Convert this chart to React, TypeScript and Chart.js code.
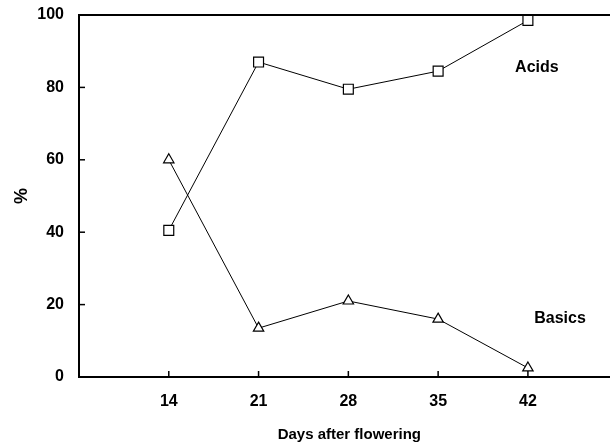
import React, { useEffect, useRef } from "react";
import { Chart, registerables } from "chart.js";

Chart.register(...registerables);

const days = [14, 21, 28, 35, 42];
const acids = [40.5, 87, 79.5, 84.5, 98.5];
const basics = [60, 13.5, 21, 16, 2.5];
const yTicks = [0, 20, 40, 60, 80, 100];
const seriesLabels = [
  { text: "Acids", x: 42.7, y: 85.5 },
  { text: "Basics", x: 44.5, y: 16 },
];
const xTitle = "Days after flowering";

const FONT = "'Liberation Sans', Arial, sans-serif";

const decorPlugin = {
  id: "decor",
  afterDraw(chart: any) {
    const { ctx, chartArea, scales } = chart;
    const xs = scales.x;
    const ys = scales.y;
    ctx.save();
    ctx.strokeStyle = "#000";
    ctx.lineWidth = 2;
    // top border
    ctx.beginPath();
    ctx.moveTo(chartArea.left - 1, chartArea.top);
    ctx.lineTo(chart.width, chartArea.top);
    ctx.stroke();
    // inner ticks
    ctx.lineWidth = 1.5;
    for (const d of days) {
      const px = xs.getPixelForValue(d);
      ctx.beginPath();
      ctx.moveTo(px, chartArea.bottom);
      ctx.lineTo(px, chartArea.bottom - 6);
      ctx.stroke();
    }
    for (const v of yTicks) {
      const py = ys.getPixelForValue(v);
      ctx.beginPath();
      ctx.moveTo(chartArea.left, py);
      ctx.lineTo(chartArea.left + 6, py);
      ctx.stroke();
    }
    // series labels
    ctx.fillStyle = "#000";
    ctx.font = `bold 16px ${FONT}`;
    ctx.textAlign = "center";
    ctx.textBaseline = "middle";
    for (const l of seriesLabels) {
      ctx.fillText(l.text, xs.getPixelForValue(l.x), ys.getPixelForValue(l.y));
    }
    // x axis title, centred under the middle tick
    ctx.font = `bold 15px ${FONT}`;
    ctx.fillText(xTitle, xs.getPixelForValue(days[2]) + 1, chartArea.bottom + 58);
    ctx.restore();
  },
};

export default function App() {
  const ref = useRef<HTMLCanvasElement>(null);
  useEffect(() => {
    if (!ref.current) return;
    const chart = new Chart(ref.current, {
      type: "line",
      data: {
        datasets: [
          {
            label: "Acids",
            data: days.map((d, i) => ({ x: d, y: acids[i] })),
            borderColor: "#000",
            borderWidth: 1,
            pointStyle: "rect",
            pointRadius: 7,
            pointBackgroundColor: "#fff",
            pointBorderColor: "#000",
            pointBorderWidth: 1.2,
            tension: 0,
          },
          {
            label: "Basics",
            data: days.map((d, i) => ({ x: d, y: basics[i] })),
            borderColor: "#000",
            borderWidth: 1,
            pointStyle: "triangle",
            pointRadius: 6,
            pointBackgroundColor: "#fff",
            pointBorderColor: "#000",
            pointBorderWidth: 1.2,
            tension: 0,
          },
        ],
      },
      options: {
        animation: false,
        responsive: false,
        layout: { autoPadding: false, padding: { top: 15, left: 0, right: 0, bottom: 0 } },
        plugins: { legend: { display: false }, tooltip: { enabled: false } },
        scales: {
          x: {
            type: "linear",
            min: 7,
            max: 48.4,
            afterFit: (s: any) => {
              s.height = 66;
              s.paddingLeft = 0;
              s.paddingRight = 0;
            },
            afterBuildTicks: (s: any) => { s.ticks = days.map((v) => ({ value: v })); },
            grid: { display: false, drawTicks: false },
            border: { display: true, color: "#000", width: 2 },
            ticks: {
              color: "#000",
              padding: 15,
              font: { family: FONT, size: 16, weight: "bold" },
            },
            title: { display: false },
          },
          y: {
            type: "linear",
            min: 0,
            max: 100,
            afterFit: (s: any) => {
              s.width = 79;
              s.paddingTop = 0;
              s.paddingBottom = 0;
            },
            afterBuildTicks: (s: any) => { s.ticks = yTicks.map((v) => ({ value: v })); },
            grid: { display: false, drawTicks: false },
            border: { display: true, color: "#000", width: 2 },
            ticks: {
              color: "#000",
              padding: 15,
              font: { family: FONT, size: 16, weight: "bold" },
            },
            title: {
              display: true,
              text: "%",
              color: "#000",
              font: { family: FONT, size: 18, weight: "bold" },
              padding: { top: 11, bottom: 0 },
            },
          },
        },
      },
      plugins: [decorPlugin],
    } as any);
    return () => chart.destroy();
  }, []);
  return (
    <div style={{ position: "absolute", left: 0, top: 0, width: 610, height: 443, background: "#fff" }}>
      <canvas ref={ref} width={610} height={443} style={{ width: 610, height: 443 }} />
    </div>
  );
}
